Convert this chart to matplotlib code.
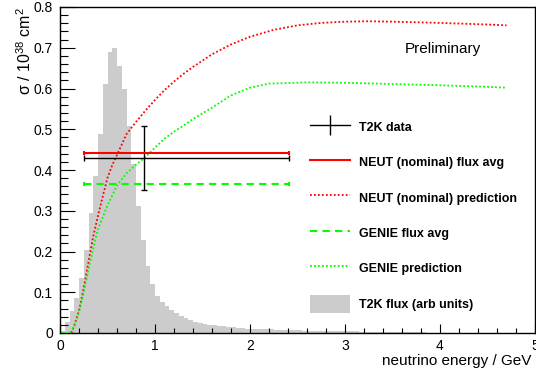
import matplotlib
matplotlib.use("Agg")
import matplotlib.pyplot as plt
from matplotlib.lines import Line2D
from matplotlib.patches import Patch

plt.rcParams["font.family"] = ["Liberation Sans", "DejaVu Sans"]
plt.rcParams["mathtext.fontset"] = "custom"
plt.rcParams["mathtext.rm"] = "Liberation Sans"
plt.rcParams["mathtext.it"] = "Liberation Sans:italic"

# ---- T2K flux histogram (arb units), 0.05 GeV bins from 0 to 5 GeV ----
flux_edges = [i * 0.05 for i in range(101)]
flux_counts = [
    0.005, 0.026, 0.055, 0.087, 0.135, 0.203, 0.294, 0.385, 0.489, 0.612,
    0.689, 0.699, 0.656, 0.600, 0.508, 0.415, 0.311, 0.228, 0.164, 0.120,
    0.092, 0.077, 0.066, 0.056, 0.048, 0.042, 0.036, 0.032, 0.028, 0.025,
    0.022, 0.020, 0.019, 0.017, 0.016, 0.015, 0.014, 0.013, 0.012, 0.011,
    0.010, 0.010, 0.009, 0.009, 0.009, 0.008, 0.008, 0.008, 0.007, 0.007,
    0.007, 0.006, 0.006, 0.006, 0.006, 0.005, 0.005, 0.005, 0.005, 0.004,
    0.004, 0.004, 0.004, 0.003, 0.003, 0.003, 0.003, 0.003, 0.002, 0.002,
    0.002, 0.002, 0.002, 0.002, 0.002, 0.002, 0.002, 0.001, 0.001, 0.001,
    0.001, 0.001, 0.001, 0.001, 0.001, 0.001, 0.001, 0.001, 0.001, 0.001,
    0.001, 0.001, 0.001, 0.001, 0.001, 0.001, 0.001, 0.001, 0.001, 0.001,
]

# ---- model predictions ----
neut_energy = [0.12, 0.15, 0.20, 0.25, 0.30, 0.35, 0.40, 0.45, 0.50, 0.55,
               0.60, 0.70, 0.80, 0.90, 1.00, 1.10, 1.20, 1.30, 1.40, 1.60,
               1.80, 2.00, 2.25, 2.50, 2.75, 3.00, 3.25, 3.50, 4.00, 4.50, 4.70]
neut_pred = [0.000, 0.018, 0.055, 0.110, 0.175, 0.237, 0.288, 0.335, 0.381, 0.412,
             0.437, 0.488, 0.518, 0.546, 0.572, 0.596, 0.617, 0.636, 0.653, 0.684,
             0.708, 0.727, 0.744, 0.755, 0.761, 0.764, 0.765, 0.764, 0.761, 0.757,
             0.755]

genie_energy = [0.02, 0.10, 0.15, 0.20, 0.25, 0.30, 0.35, 0.40, 0.50, 0.60,
                0.70, 0.80, 0.90, 1.00, 1.10, 1.20, 1.30, 1.40, 1.60, 1.80,
                2.00, 2.20, 2.60, 3.00, 3.50, 4.00, 4.50, 4.70]
genie_pred = [0.000, 0.000, 0.015, 0.050, 0.100, 0.155, 0.208, 0.255, 0.313, 0.362,
              0.392, 0.413, 0.432, 0.455, 0.477, 0.494, 0.509, 0.525, 0.553, 0.583,
              0.602, 0.612, 0.615, 0.614, 0.611, 0.608, 0.604, 0.602]

# ---- flux averaged cross sections and T2K measurement ----
e_low, e_center, e_high = 0.25, 0.888, 2.41
t2k_xsec, t2k_err = 0.429, 0.078
neut_avg = 0.441
genie_avg = 0.365

xticks = [0, 1, 2, 3, 4, 5]
xtick_labels = ["0", "1", "2", "3", "4", "5"]
yticks = [0, 0.1, 0.2, 0.3, 0.4, 0.5, 0.6, 0.7, 0.8]
ytick_labels = ["0", "0.1", "0.2", "0.3", "0.4", "0.5", "0.6", "0.7", "0.8"]

W, H = 536, 372
fig = plt.figure(figsize=(W / 100, H / 100), dpi=100)
ax = fig.add_axes([60 / W, (H - 333) / H, 475 / W, 326 / H])

ax.stairs(flux_counts, flux_edges, fill=True, color="#cccccc", zorder=1)

ax.plot(neut_energy, neut_pred, color="#ff0000", lw=1.3,
        linestyle=(0, (1, 1.2)), zorder=3)
ax.plot(genie_energy, genie_pred, color="#00ff00", lw=1.3,
        linestyle=(0, (1, 1.2)), zorder=3)

xerr = [[e_center - e_low], [e_high - e_center]]
ax.errorbar([e_center], [t2k_xsec], xerr=xerr, yerr=t2k_err, fmt="none",
            ecolor="black", elinewidth=1, capsize=2, capthick=1, zorder=4)
ax.errorbar([e_center], [neut_avg], xerr=xerr, fmt="none", ecolor="#ff0000",
            elinewidth=1.5, capsize=1.5, capthick=1.5, zorder=4)
g = ax.errorbar([e_center], [genie_avg], xerr=xerr, fmt="none", ecolor="#00ff00",
                elinewidth=1.5, capsize=1.5, capthick=1.5, zorder=4)
g[2][0].set_linestyle((0, (3.5, 2.5)))

ax.set_xlim(0, 5)
ax.set_ylim(0, 0.8)
ax.set_xticks(xticks)
ax.set_xticklabels(xtick_labels)
ax.set_yticks(yticks)
ax.set_yticklabels(ytick_labels)
ax.set_xticks([i * 0.2 for i in range(26)], minor=True)
ax.set_yticks([i * 0.02 for i in range(41)], minor=True)
ax.tick_params(axis="x", which="major", direction="in", length=6.7, width=0.8,
               labelsize=10, pad=4)
ax.tick_params(axis="x", which="minor", direction="in", length=3.4, width=0.8)
ax.tick_params(axis="y", which="major", direction="in", length=10.8, width=0.8,
               labelsize=10, pad=5)
ax.tick_params(axis="y", which="minor", direction="in", length=5.4, width=0.8)
for s in ax.spines.values():
    s.set_linewidth(1.0)

# axis titles placed like the ROOT canvas (x title runs to the right edge)
fig.text(382 / W, (H - 365) / H, "neutrino energy / GeV", fontsize=11,
         ha="left", va="baseline")
fig.text(25 / W, (H - 7) / H, "σ / 10$^{38}$ cm$^{2}$", fontsize=11.5,
         rotation=90, ha="center", va="top")
ax.text((405 - 60) / 475, (333 - 53) / 326, "Preliminary",
        transform=ax.transAxes, fontsize=11, ha="left", va="baseline")

handles = [
    Line2D([], [], color="black", lw=1, marker="|", markersize=15, mew=1),
    Line2D([], [], color="#ff0000", lw=1.5),
    Line2D([], [], color="#ff0000", lw=1.3, linestyle=(0, (1, 1.2))),
    Line2D([], [], color="#00ff00", lw=1.5, linestyle=(0, (3.5, 2.5))),
    Line2D([], [], color="#00ff00", lw=1.3, linestyle=(0, (1, 1.2))),
    Patch(facecolor="#cccccc", edgecolor="none"),
]
labels = ["T2K data", "NEUT (nominal) flux avg", "NEUT (nominal) prediction",
          "GENIE flux avg", "GENIE prediction", "T2K flux (arb units)"]
ax.legend(handles, labels, loc="upper left",
          bbox_to_anchor=(310 / W, (H - 118) / H),
          bbox_transform=fig.transFigure, frameon=False,
          prop={"weight": "bold", "size": 9}, handlelength=3.2,
          handleheight=1.85, handletextpad=0.7, labelspacing=1.38,
          borderpad=0, borderaxespad=0, numpoints=1)

fig.savefig("out.png", dpi=100)
